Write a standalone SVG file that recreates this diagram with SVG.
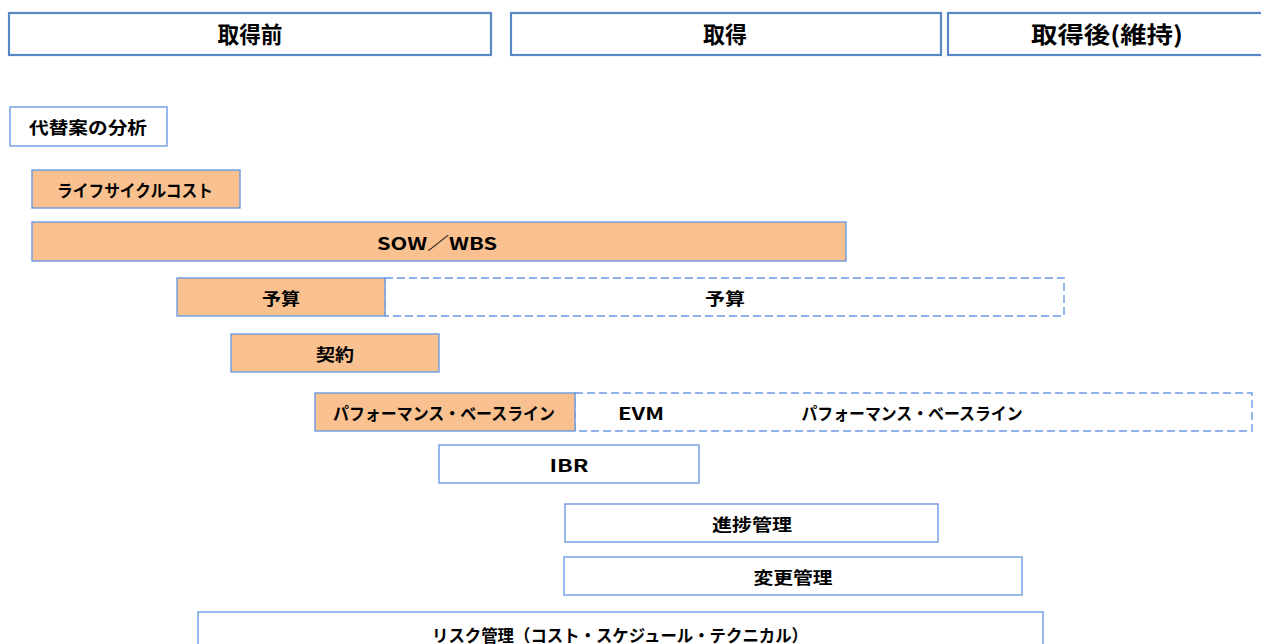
<svg xmlns="http://www.w3.org/2000/svg" width="1261" height="644" viewBox="0 0 1261 644">
<style>
text{font-family:"Noto Sans CJK JP","Noto Sans",sans-serif;font-weight:bold;fill:#000;text-anchor:middle;dominant-baseline:central;font-size:17px}
.hdr rect{fill:#fff;stroke:#5A87C5;stroke-width:2.2}
.hdr text{font-size:23px}
.box{fill:#fff;stroke:#6A9AE2;stroke-width:1.4}
.org{fill:#F9C18F;stroke:#6A9AE2;stroke-width:1.4}
.dash{fill:#fff;stroke:#6A9AE2;stroke-width:1.4;stroke-dasharray:8 4}
</style>
<rect width="1261" height="644" fill="#fff"/>
<g id="phase-pre" class="hdr"><rect x="9" y="13" width="482" height="42"/><text x="250" y="33" textLength="65" lengthAdjust="spacingAndGlyphs">取得前</text></g>
<g id="phase-acq" class="hdr"><rect x="511" y="13" width="430" height="42"/><text x="725" y="33" textLength="44" lengthAdjust="spacingAndGlyphs">取得</text></g>
<g id="phase-post" class="hdr"><rect x="948" y="13" width="330" height="42"/><text x="1107" y="33" textLength="152" lengthAdjust="spacingAndGlyphs">取得後(維持)</text></g>
<g id="aoa"><rect class="box" x="10" y="107" width="157" height="39"/><text x="88" y="126" textLength="118" lengthAdjust="spacingAndGlyphs">代替案の分析</text></g>
<g id="lcc"><rect class="org" x="32" y="170" width="208" height="38"/><text x="135" y="189" textLength="156" lengthAdjust="spacingAndGlyphs">ライフサイクルコスト</text></g>
<g id="sow"><rect class="org" x="32" y="222" width="814" height="39"/><text x="437" y="242" textLength="120" lengthAdjust="spacingAndGlyphs">SOW／WBS</text></g>
<g id="budget-post"><rect class="dash" x="385" y="278" width="679" height="38"/><text x="725" y="297" textLength="40" lengthAdjust="spacingAndGlyphs">予算</text></g>
<g id="budget-pre"><rect class="org" x="177" y="278" width="208" height="38"/><text x="281" y="297" textLength="38" lengthAdjust="spacingAndGlyphs">予算</text></g>
<g id="contract"><rect class="org" x="231" y="334" width="208" height="38"/><text x="335" y="353" textLength="38" lengthAdjust="spacingAndGlyphs">契約</text></g>
<g id="pmb-post"><rect class="dash" x="575" y="393" width="677" height="38"/><text x="641" y="412" textLength="46" lengthAdjust="spacingAndGlyphs">EVM</text><text x="912" y="412" textLength="221" lengthAdjust="spacingAndGlyphs">パフォーマンス・ベースライン</text></g>
<g id="pmb-pre"><rect class="org" x="315" y="393" width="260" height="38"/><text x="444" y="412" textLength="222" lengthAdjust="spacingAndGlyphs">パフォーマンス・ベースライン</text></g>
<g id="ibr"><rect class="box" x="439" y="445" width="260" height="38"/><text x="569" y="464" textLength="39" lengthAdjust="spacingAndGlyphs">IBR</text></g>
<g id="progress"><rect class="box" x="565" y="504" width="373" height="38"/><text x="752" y="523" textLength="80" lengthAdjust="spacingAndGlyphs">進捗管理</text></g>
<g id="change"><rect class="box" x="564" y="557" width="458" height="38"/><text x="793" y="576" textLength="79" lengthAdjust="spacingAndGlyphs">変更管理</text></g>
<g id="risk"><rect class="box" x="198" y="612" width="845" height="42"/><text x="620" y="634" textLength="376" lengthAdjust="spacingAndGlyphs">リスク管理（コスト・スケジュール・テクニカル）</text></g>
<g id="connectors"></g>
</svg>
